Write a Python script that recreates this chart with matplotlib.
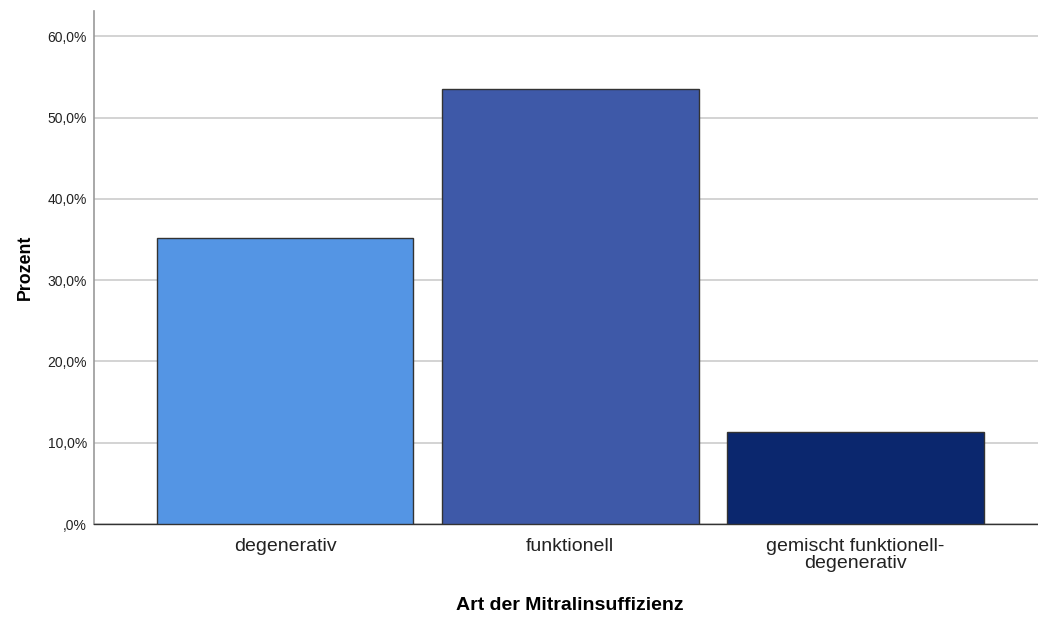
import matplotlib.pyplot as plt
import numpy as np
from matplotlib.ticker import FuncFormatter

plt.rcParams['font.family'] = ['Liberation Sans', 'DejaVu Sans']

# Data
categories = ['degenerativ', 'funktionell', 'gemischt funktionell-\ndegenerativ']
percent = [35.2, 53.5, 11.3]
bar_colors = ['#5495e4', '#3e59a8', '#0b276e']
y_ticks = [0, 10, 20, 30, 40, 50, 60]

fig = plt.figure(figsize=(10.38, 6.19), dpi=100)
ax = fig.add_axes([94 / 1038, 95 / 619, 1 - 94 / 1038, 513 / 619])

x = np.arange(len(categories))
ax.bar(x, percent, width=0.9, color=bar_colors, edgecolor='#333333', linewidth=1.0, zorder=3)

ax.set_xlim(-0.67, 2.64)
ax.set_ylim(0, 63.1)
ax.set_yticks(y_ticks)
ax.yaxis.set_major_formatter(FuncFormatter(
    lambda v, p: (',0%' if v == 0 else f'{v:.1f}'.replace('.', ',') + '%')))
ax.set_xticks(x)
ax.set_xticklabels(categories, fontsize=14, color='#222222', linespacing=1.0)
ax.tick_params(axis='y', length=0, labelsize=10, pad=5, colors='#222222')
ax.tick_params(axis='x', length=0, pad=10)

ax.grid(axis='y', color='#cccccc', linewidth=1.2, zorder=0)
ax.set_axisbelow(True)

for side in ['top', 'right']:
    ax.spines[side].set_visible(False)
ax.spines['left'].set_color('#999999')
ax.spines['left'].set_linewidth(1.2)
ax.spines['bottom'].set_color('#333333')
ax.spines['bottom'].set_linewidth(1.0)

ax.set_ylabel('Prozent', fontsize=12.8, fontweight='bold', labelpad=10)
fig.text(570 / 1038, 1 - 605 / 619, 'Art der Mitralinsuffizienz', fontsize=14,
         fontweight='bold', ha='center', va='center')

fig.savefig('out.png', dpi=100)
